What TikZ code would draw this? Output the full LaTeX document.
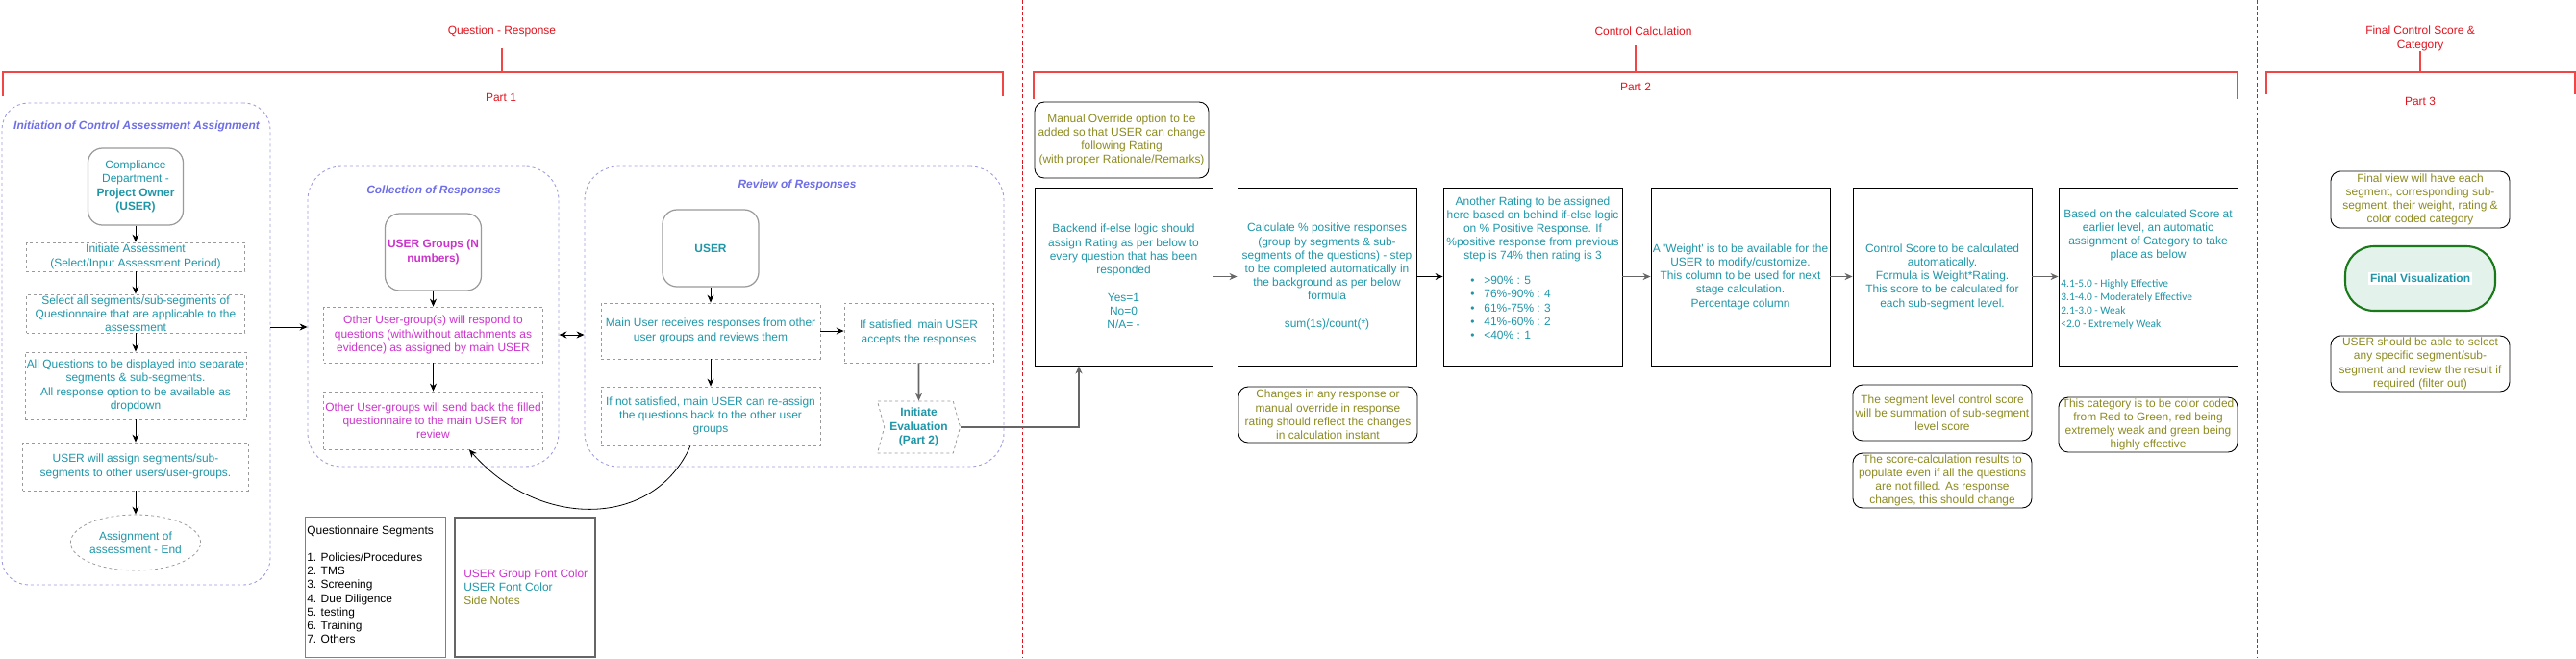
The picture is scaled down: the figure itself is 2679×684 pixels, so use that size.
\documentclass[tikz,border=0pt]{standalone}
\usepackage{fontspec}
\setmainfont{Liberation Sans}
\newfontfamily\calibrifont{Carlito}
\usetikzlibrary{arrows.meta,shapes.geometric,shapes.symbols}
\setlength{\fboxsep}{1pt}
\definecolor{CTRLred1}{HTML}{E0141E}
\definecolor{CTRLred2}{HTML}{F04646}
\definecolor{CTRLteal1}{HTML}{1E96A8}
\definecolor{CTRLmagenta1}{HTML}{CC33CC}
\definecolor{CTRLolive1}{HTML}{8C8A1E}
\definecolor{CTRLpurple1}{HTML}{6E6EE6}
\definecolor{CTRLpurple2}{HTML}{9C9CDE}
\definecolor{CTRLgrey050}{HTML}{808080}
\definecolor{CTRLgrey030}{HTML}{9A9A9A}
\definecolor{CTRLgreen1}{HTML}{1A7A1A}
\definecolor{CTRLgreen010}{HTML}{E4F2EC}

\begin{document}
\begin{tikzpicture}[x=0.02cm, y=-0.02cm,
        font=\fontsize{6.8}{8.1}\selectfont,
        every node/.style={inner sep=0pt},
        bracket/.style={draw=CTRLred2, line width=0.9pt},
        parttitle/.style={text=CTRLred1, align=center},
        separator/.style={draw=CTRLred1, dash pattern=on 2pt off 1.5pt, line width=0.45pt},
        container/.style={draw=CTRLpurple2, dash pattern=on 1.7pt off 1.7pt, line width=0.5pt, rounded corners=0.7cm},
        containertitle/.style={text=CTRLpurple1, font=\fontsize{6.8}{8.1}\selectfont\bfseries\itshape},
        userbold/.style={font=\fontsize{6.8}{8.1}\selectfont\bfseries},
        userbox/.style={draw=CTRLgrey030, line width=0.7pt, rounded corners=0.3cm, align=center},
        stepbox/.style={draw=CTRLgrey030, dash pattern=on 1.7pt off 1.7pt, line width=0.45pt, align=center},
        calcbox/.style={draw=black, line width=0.5pt, align=center, text=CTRLteal1},
        notebox/.style={draw=black, line width=0.5pt, rounded corners=0.2cm, align=center, text=CTRLolive1},
        arr/.style={-{Stealth[length=1.6mm, width=1.4mm]}, line width=0.5pt},
        arrg/.style={arr, draw=CTRLgrey050!80!black, line width=0.9pt},
        dblarr/.style={{Stealth[length=1.6mm, width=1.4mm]}-{Stealth[length=1.6mm, width=1.4mm]}, line width=0.5pt}]
        \def\pu{0.02cm}
        \useasboundingbox (0,0) rectangle (2679,684);

        \draw[separator] (1063,0) -- (1063,684);
        \draw[separator] (2347,0) -- (2347,684);

        \draw[bracket] (3,100) |- (1043,75) -- (1043,100);
        \draw[bracket] (522,50) -- (522,75);
        \node[parttitle] (qrtitle) at (522,32) {Question - Response};
        \node[parttitle] (partone) at (521,101) {Part 1};
        \draw[bracket] (1075,103) |- (2327,75) -- (2327,103);
        \draw[bracket] (1701,47) -- (1701,75);
        \node[parttitle] (cctitle) at (1709,32) {Control Calculation};
        \node[parttitle] (parttwo) at (1701,90) {Part 2};
        \draw[bracket] (2357,98) |- (2678,75) -- (2678,98);
        \draw[bracket] (2517,53) -- (2517,75);
        \node[parttitle] (fctitle) at (2517,40) {Final Control Score \&\\Category};
        \node[parttitle] (partthree) at (2517,105) {Part 3};

        \node[container, rounded corners=0.55cm, minimum width=279*\pu, minimum height=501*\pu] (initbox) at (141.5,357.5) {};
        \node[containertitle] (inittitle) at (142,131) {Initiation of Control Assessment Assignment};
        \node[userbox, text=CTRLteal1, minimum width=99*\pu, minimum height=80*\pu] (owner) at (141,194) {Compliance\\Department -\\\textbf{Project Owner}\\\textbf{(USER)}};
        \node[stepbox, text=CTRLteal1, minimum width=227*\pu, minimum height=30*\pu] (initiate) at (141,267) {Initiate Assessment\\(Select/Input Assessment Period)};
        \node[stepbox, text=CTRLteal1, minimum width=227*\pu, minimum height=40*\pu] (selectall) at (141,326) {Select all segments/sub-segments of\\Questionnaire that are applicable to the\\assessment};
        \node[stepbox, text=CTRLteal1, minimum width=230*\pu, minimum height=70*\pu] (allquest) at (141,401) {All Questions to be displayed into separate\\segments \& sub-segments.\\All response option to be available as\\dropdown};
        \node[stepbox, text=CTRLteal1, minimum width=235*\pu, minimum height=50*\pu] (assign) at (141,485) {USER will assign segments/sub-\\segments to other users/user-groups.};
        \node[stepbox, ellipse, text=CTRLteal1, minimum width=119*\pu, minimum height=58*\pu] (assignend) at (141,564) {Assignment of\\assessment - End};

        \node[container, minimum width=261*\pu, minimum height=312*\pu] (collbox) at (450.5,329) {};
        \node[containertitle] (colltitle) at (451,198) {Collection of Responses};
        \node[userbox, userbold, text=CTRLmagenta1, minimum width=100*\pu, minimum height=80*\pu] (groups) at (450.5,262) {USER Groups (N\\numbers)};
        \node[stepbox, text=CTRLmagenta1, minimum width=228*\pu, minimum height=58*\pu] (respond) at (450.5,348) {Other User-group(s) will respond to\\questions (with/without attachments as\\evidence) as assigned by main USER};
        \node[stepbox, text=CTRLmagenta1, minimum width=228*\pu, minimum height=60*\pu] (sendback) at (450.5,437) {Other User-groups will send back the filled\\questionnaire to the main USER for\\review};

        \node[container, minimum width=436*\pu, minimum height=312*\pu] (revbox) at (826,329) {};
        \node[containertitle] (revtitle) at (829,192) {Review of Responses};
        \node[userbox, userbold, text=CTRLteal1, minimum width=100*\pu, minimum height=80*\pu] (mainuser) at (739,258) {USER};
        \node[stepbox, text=CTRLteal1, minimum width=228*\pu, minimum height=58*\pu] (receive) at (739,344) {Main User receives responses from other\\user groups and reviews them};
        \node[stepbox, text=CTRLteal1, minimum width=228*\pu, minimum height=61*\pu] (notsat) at (739,432.5) {If not satisfied, main USER can re-assign\\the questions back to the other user\\groups};
        \node[stepbox, text=CTRLteal1, minimum width=155*\pu, minimum height=62*\pu] (satisfied) at (955.5,346) {If satisfied, main USER\\accepts the responses};
        \node[stepbox, signal, signal from=west, signal to=east, signal pointer angle=150, userbold, text=CTRLteal1, minimum width=86*\pu, minimum height=54*\pu] (initeval) at (955.5,444) {Initiate\\Evaluation\\(Part 2)};

        \node[draw=CTRLgrey050, line width=0.45pt, minimum width=146*\pu, minimum height=146*\pu] (segbox) at (390,610) {};
        \node[anchor=north west, align=left] (segtext) at (319,546) {Questionnaire Segments\\[8.1pt]1. Policies/Procedures\\2. TMS\\3. Screening\\4. Due Diligence\\5. testing\\6. Training\\7. Others};
        \node[draw=CTRLgrey050!80!black, line width=1pt, minimum width=146*\pu, minimum height=145*\pu] (colbox) at (546,610.5) {};
        \node[anchor=west, align=left] (coltext) at (482,610) {\textcolor{CTRLmagenta1}{USER Group Font Color}\\\textcolor{CTRLteal1}{USER Font Color}\\\textcolor{CTRLolive1}{Side Notes}};

        \node[notebox, minimum width=181*\pu, minimum height=79*\pu] (override) at (1166.5,145.5) {Manual Override option to be\\added so that USER can change\\following Rating\\(with proper Rationale/Remarks)};
        \node[calcbox, minimum width=185*\pu, minimum height=185*\pu] (backend) at (1168.5,287.5) {Backend if-else logic should\\assign Rating as per below to\\every question that has been\\responded\\[8.1pt]Yes=1\\No=0\\N/A= -};
        \node[calcbox, minimum width=186*\pu, minimum height=185*\pu] (calc) at (1380,287.5) {Calculate \% positive responses\\(group by segments \& sub-\\segments of the questions) - step\\to be completed automatically in\\the background as per below\\formula\\[8.1pt]sum(1s)/count(*)};
        \node[notebox, minimum width=186*\pu, minimum height=58*\pu] (changes) at (1381,431) {Changes in any response or\\manual override in response\\rating should reflect the changes\\in calculation instant};
        \node[calcbox, minimum width=186*\pu, minimum height=185*\pu] (rating) at (1594,287.5) {};
        \node[text=CTRLteal1, align=center, anchor=north] (ratingtext) at (1594,204) {Another Rating to be assigned\\here based on behind if-else logic\\on \% Positive Response. If\\\%positive response from previous\\step is 74\% then rating is 3};
        \node[text=CTRLteal1, align=left, anchor=north west] (ratinglist) at (1529,287) {\makebox[0.28cm][l]{\textbullet}>90\% : 5\\\makebox[0.28cm][l]{\textbullet}76\%-90\% : 4\\\makebox[0.28cm][l]{\textbullet}61\%-75\% : 3\\\makebox[0.28cm][l]{\textbullet}41\%-60\% : 2\\\makebox[0.28cm][l]{\textbullet}<40\% : 1};
        \node[calcbox, minimum width=186*\pu, minimum height=185*\pu] (weight) at (1810,287.5) {A \textquotesingle Weight\textquotesingle{} is to be available for the\\USER to modify/customize.\\This column to be used for next\\stage calculation.\\Percentage column};
        \node[calcbox, minimum width=186*\pu, minimum height=185*\pu] (score) at (2020,287.5) {Control Score to be calculated\\automatically.\\Formula is Weight*Rating.\\This score to be calculated for\\each sub-segment level.};
        \node[calcbox, minimum width=186*\pu, minimum height=185*\pu] (category) at (2234,287.5) {};
        \node[text=CTRLteal1, align=center, anchor=north] (categorytext) at (2234,217) {Based on the calculated Score at\\earlier level, an automatic\\assignment of Category to take\\place as below};
        \node[text=CTRLteal1, align=left, anchor=north west, font=\calibrifont\fontsize{6.5}{8.1}\selectfont] (categorylist) at (2143,290) {4.1-5.0 - Highly Effective\\3.1-4.0 - Moderately Effective\\2.1-3.0 - Weak\\<2.0 - Extremely Weak};
        \node[notebox, minimum width=186*\pu, minimum height=58*\pu] (segsum) at (2020,429) {The segment level control score\\will be summation of sub-segment\\level score};
        \node[notebox, minimum width=186*\pu, minimum height=57*\pu] (partial) at (2020,499.5) {The score-calculation results to\\populate even if all the questions\\are not filled. As response\\changes, this should change};
        \node[notebox, minimum width=186*\pu, minimum height=57*\pu] (colorcode) at (2234,441.5) {This category is to be color coded\\from Red to Green, red being\\extremely weak and green being\\highly effective};

        \node[notebox, minimum width=186*\pu, minimum height=59*\pu] (finalview) at (2517,207.5) {Final view will have each\\segment, corresponding sub-\\segment, their weight, rating \&\\color coded category};
        \node[draw=CTRLgreen1, fill=CTRLgreen010, line width=1.2pt, rounded corners=0.6cm, minimum width=156*\pu, minimum height=67*\pu, userbold, text=CTRLteal1] (finalvis) at (2517,289.5) {\colorbox{white}{Final Visualization}};
        \node[notebox, minimum width=186*\pu, minimum height=58*\pu] (filter) at (2517,378) {USER should be able to select\\any specific segment/sub-\\segment and review the result if\\required (filter out)};

        \draw[arr] (owner) -- (initiate);
        \draw[arr] (initiate) -- (selectall);
        \draw[arr] (selectall) -- (allquest);
        \draw[arr] (allquest) -- (assign);
        \draw[arr] (assign) -- (assignend);
        \draw[arr] ([yshift=0.35cm]initbox.east) coordinate (initout) -- (initout -| collbox.west);
        \draw[arr] (groups) -- (respond);
        \draw[arr] (respond) -- (sendback);
        \draw[dblarr] (collbox.east |- respond) -- (revbox.west |- respond);
        \draw[arr] (mainuser) -- (receive);
        \draw[arr] (receive) -- (notsat);
        \draw[arr] (receive.east) -- (receive.east -| satisfied.west);
        \draw[arrg] (satisfied) -- (initeval);
        \draw[arr, line width=0.45pt] ([xshift=-0.42cm]notsat.south) .. controls (680,550) and (560,550) .. ([xshift=0.75cm]sendback.south);
        \draw[arrg] (initeval.east) -| ([xshift=-0.93cm]backend.south);
        \draw[arrg] (backend) -- (calc);
        \draw[arr] (calc) -- (rating);
        \draw[arrg] (rating) -- (weight);
        \draw[arrg] (weight) -- (score);
        \draw[arrg] (score) -- (category);
\end{tikzpicture}
\end{document}
